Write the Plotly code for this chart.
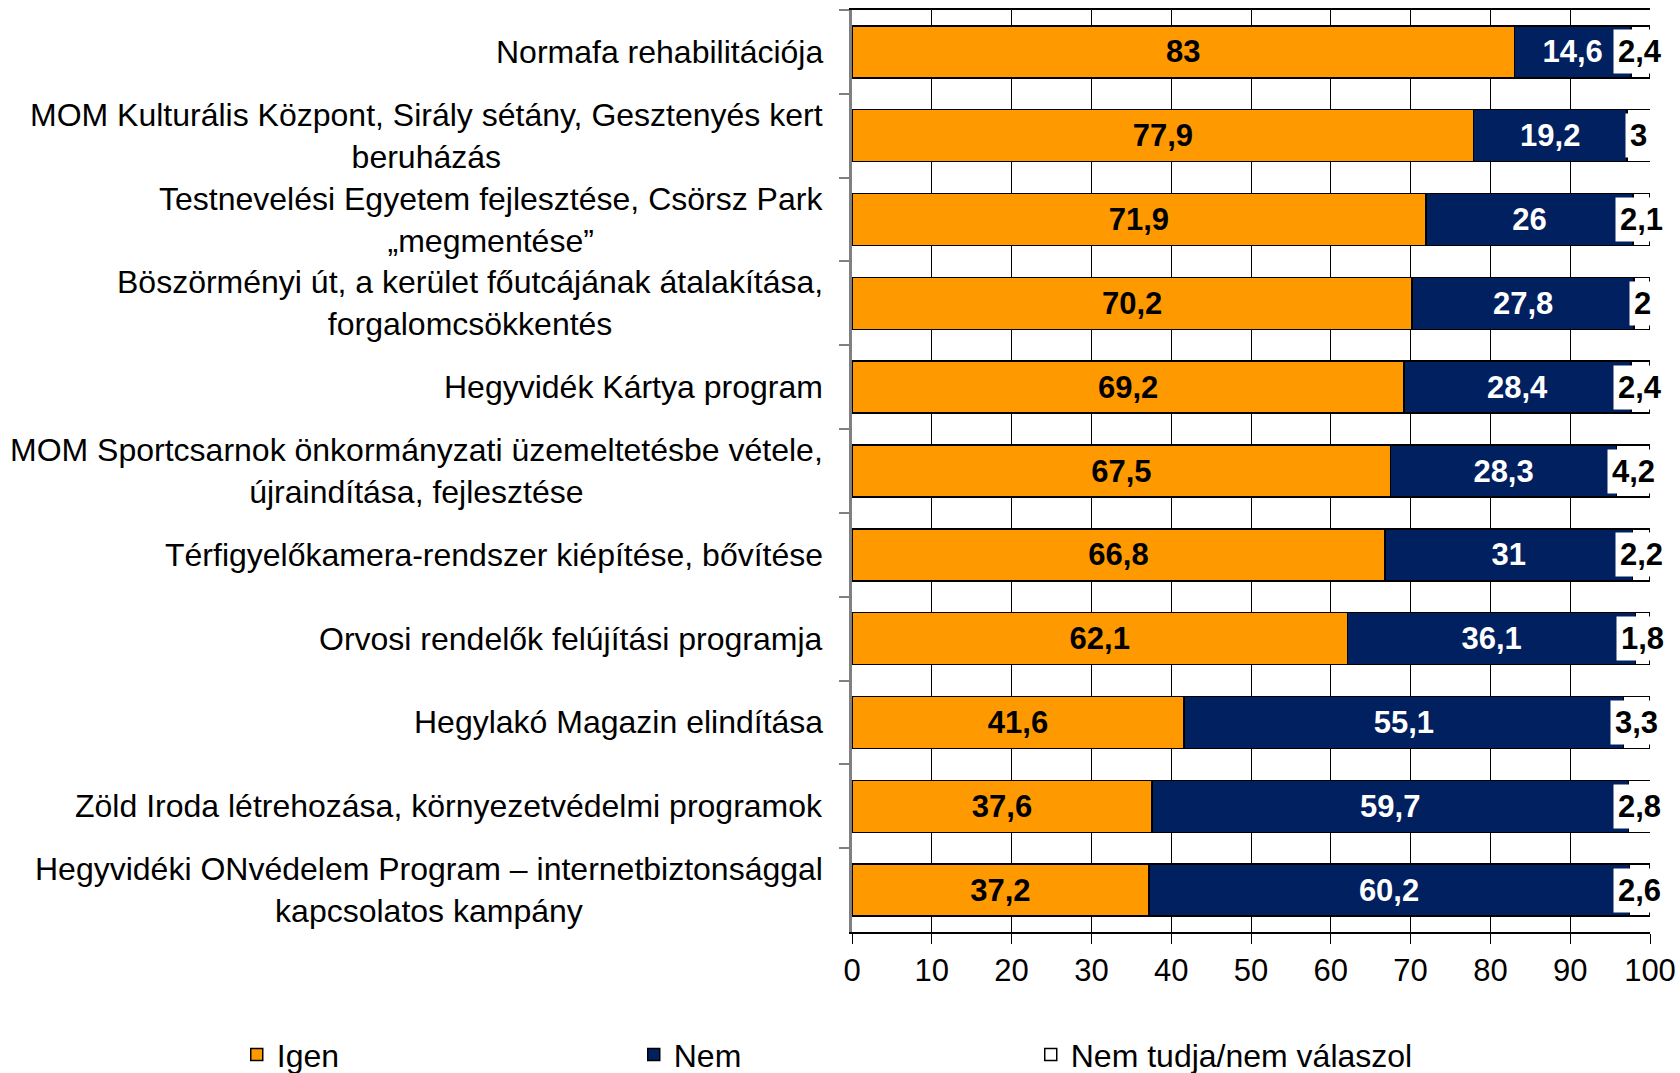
import plotly.graph_objects as go

categories = [
    "Normafa rehabilitációja",
    "MOM Kulturális Központ, Sirály sétány, Gesztenyés kert<br>beruházás",
    "Testnevelési Egyetem fejlesztése, Csörsz Park<br>„megmentése”",
    "Böszörményi út, a kerület főutcájának átalakítása,<br>forgalomcsökkentés",
    "Hegyvidék Kártya program",
    "MOM Sportcsarnok önkormányzati üzemeltetésbe vétele,<br>újraindítása, fejlesztése",
    "Térfigyelőkamera-rendszer kiépítése, bővítése",
    "Orvosi rendelők felújítási programja",
    "Hegylakó Magazin elindítása",
    "Zöld Iroda létrehozása, környezetvédelmi programok",
    "Hegyvidéki ONvédelem Program – internetbiztonsággal<br>kapcsolatos kampány",
]
igen = [83, 77.9, 71.9, 70.2, 69.2, 67.5, 66.8, 62.1, 41.6, 37.6, 37.2]
nem = [14.6, 19.2, 26, 27.8, 28.4, 28.3, 31, 36.1, 55.1, 59.7, 60.2]
nemtudja = [2.4, 3, 2.1, 2, 2.4, 4.2, 2.2, 1.8, 3.3, 2.8, 2.6]
series_names = ["Igen", "Nem", "Nem tudja/nem válaszol"]
x_ticks = [0, 10, 20, 30, 40, 50, 60, 70, 80, 90, 100]

FONT = "Liberation Sans, Arial, sans-serif"
ORANGE = "#FF9900"
NAVY = "#002060"


def fmt(v):
    return str(int(v)) if float(v).is_integer() else str(v).replace(".", ",")


fig = go.Figure()
fig.add_trace(go.Bar(
    y=categories, x=igen, orientation="h", name=series_names[0],
    marker=dict(color=ORANGE, line=dict(color="black", width=1.5)),
    text=[fmt(v) for v in igen], textposition="inside", insidetextanchor="middle",
    textangle=0, constraintext="none",
    textfont=dict(family=FONT, size=31, color="black", weight="bold"),
))
fig.add_trace(go.Bar(
    y=categories, x=nem, orientation="h", name=series_names[1],
    marker=dict(color=NAVY, line=dict(color="black", width=1.5)),
    text=[fmt(v) for v in nem], textposition="inside", insidetextanchor="middle",
    textangle=0, constraintext="none",
    textfont=dict(family=FONT, size=31, color="white", weight="bold"),
))
fig.add_trace(go.Bar(
    y=categories, x=nemtudja, orientation="h", name=series_names[2],
    marker=dict(color="white", line=dict(color="black", width=1.5)),
))

annotations = []
for c, a, b, n in zip(categories, igen, nem, nemtudja):
    annotations.append(dict(
        x=a + b + n / 2, y=c, xref="x", yref="y", text=fmt(n), showarrow=False,
        font=dict(family=FONT, size=31, color="black", weight="bold"),
        bgcolor="white", borderpad=4,
    ))
    annotations.append(dict(
        x=0, y=c, xref="paper", yref="y", text=c, showarrow=False,
        xanchor="right", align="center", xshift=-27,
        font=dict(family=FONT, size=32, color="black"),
    ))

fig.update_layout(
    template="none",
    width=1680, height=1073,
    margin=dict(l=852, r=30, t=10, b=141, autoexpand=False),
    paper_bgcolor="white", plot_bgcolor="white",
    barmode="stack", bargap=0.38,
    font=dict(family=FONT, size=31, color="black"),
    showlegend=True,
    legend=dict(orientation="h", x=-0.771, y=-0.133, xanchor="left", yanchor="middle",
                entrywidth=352, entrywidthmode="pixels", itemwidth=30,
                bgcolor="rgba(0,0,0,0)",
                font=dict(family=FONT, size=32, color="black"), traceorder="normal"),
    annotations=annotations,
)
fig.update_xaxes(
    range=[0, 100], tickvals=x_ticks, ticktext=[str(t) for t in x_ticks],
    showgrid=True, gridcolor="black", gridwidth=1,
    showline=True, linecolor="black", linewidth=1.5, mirror=True,
    ticks="outside", ticklen=10, tickcolor="black", tickwidth=1,
    tickfont=dict(family=FONT, size=31, color="black"),
    zeroline=False, automargin=False,
)
fig.update_yaxes(
    categoryorder="array", categoryarray=categories, autorange="reversed",
    showticklabels=False, tickson="boundaries", ticks="outside", ticklen=10,
    tickcolor="#808080", tickwidth=2,
    showline=True, linecolor="#808080", linewidth=3,
    showgrid=False, zeroline=False, automargin=False,
)

fig.write_html(
    "out.html",
    config={"displayModeBar": False},
    post_script="document.body.style.margin='0';document.body.style.overflow='hidden';",
)
